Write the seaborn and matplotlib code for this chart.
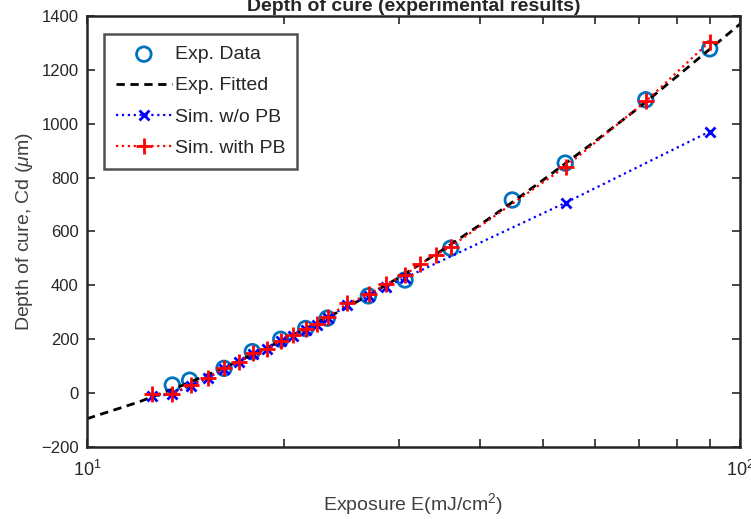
import numpy as np
import pandas as pd
import matplotlib
matplotlib.use("Agg")
import matplotlib.pyplot as plt
import seaborn as sns

# values
exp_E = [13.51, 14.36, 16.21, 17.91, 19.80, 21.62, 23.33, 26.97, 30.69, 36.06, 44.80, 54.00, 71.72, 89.86]
exp_Cd = [30, 48, 92, 154, 200, 240, 278, 361, 420, 538, 717, 854, 1089, 1278]

fit_E = [10, 12, 14, 16, 18, 20, 25, 30, 35, 40, 45, 50, 60, 70, 80, 90, 100]
fit_Cd = [-95, -33, 29, 88, 145, 198, 318, 428, 531, 625, 712, 792, 935, 1060, 1175, 1278, 1370]

pb_E = [12.56, 13.51, 14.41, 15.34, 16.21, 17.09, 17.97, 18.89, 19.80, 20.68, 21.62, 22.50, 23.39,
        25.04, 27.03, 28.73, 30.69, 32.32, 34.20, 36.06, 54.08, 71.72, 89.86]
pb_Cd = [-5, -2, 30, 58, 93, 116, 148, 164, 194, 216, 237, 257, 284,
         333, 367, 405, 439, 478, 513, 544, 841, 1083, 1305]

nopb_E = [12.56, 13.51, 14.41, 15.34, 16.21, 17.09, 17.97, 18.89, 19.80, 20.68, 21.62, 22.50, 23.39,
          25.04, 27.03, 28.73, 30.69, 54.08, 89.86]
nopb_Cd = [-12, -4, 28, 56, 91, 114, 146, 162, 192, 213, 234, 253, 279,
           326, 360, 394, 428, 707, 971]

sns.set_style("ticks")
plt.rcParams['font.family'] = ['Liberation Sans', 'DejaVu Sans']
plt.rcParams['mathtext.fontset'] = 'custom'
plt.rcParams['mathtext.rm'] = 'Liberation Sans'
plt.rcParams['mathtext.it'] = 'Liberation Sans:italic'

fig = plt.figure(figsize=(7.51, 5.19), dpi=100)
ax = fig.add_axes([87 / 751, 1 - 447 / 519, 653 / 751, 431 / 519])

sns.lineplot(x=fit_E, y=fit_Cd, ax=ax, color='black', linestyle=(0, (3, 2)), linewidth=2,
             label='Exp. Fitted', sort=False)
sns.lineplot(x=nopb_E, y=nopb_Cd, ax=ax, color='#0000FF', linestyle=':', linewidth=1.6,
             marker='x', markersize=7, markeredgewidth=2, markeredgecolor='#0000FF',
             label='Sim. w/o PB', sort=False)
sns.lineplot(x=pb_E, y=pb_Cd, ax=ax, color='#FF0000', linestyle=':', linewidth=1.6,
             marker='+', markersize=11, markeredgewidth=2, markeredgecolor='#FF0000',
             label='Sim. with PB', sort=False)
sns.scatterplot(x=exp_E, y=exp_Cd, ax=ax, marker='o', s=110, facecolor='none',
                edgecolor='#0072BD', linewidth=2, label='Exp. Data', zorder=1)

ax.set_xscale('log')
ax.set_xlim(10, 100)
ax.set_ylim(-200, 1400)
ax.set_yticks(np.arange(-200, 1401, 200))
ax.set_xticks([10, 100])
ax.set_xticklabels(['$10^1$', '$10^2$'])
ax.set_xticks([20, 30, 40, 50, 60, 70, 80, 90], minor=True)
ax.xaxis.set_minor_formatter(matplotlib.ticker.NullFormatter())

ax.tick_params(axis='both', which='both', direction='in', top=True, right=True,
               labelsize=12, colors='#262626', width=1.2)
ax.tick_params(axis='both', which='major', length=6)
ax.tick_params(axis='x', which='minor', length=6)
ax.tick_params(axis='x', which='major', pad=9, labelsize=13)
ax.tick_params(axis='y', which='major', pad=6)
for sp in ax.spines.values():
    sp.set_linewidth(1.8)
    sp.set_color('#262626')

ax.set_xlabel('Exposure E(mJ/cm$^2$)', fontsize=14, color='#404040', labelpad=8)
ax.set_ylabel('Depth of cure, Cd ($\\mu$m)', fontsize=14, color='#404040', labelpad=4)

fig.text((87 + 740) / 2 / 751, 1 - 11 / 519, 'Depth of cure (experimental results)',
         ha='center', va='baseline', fontsize=14, fontweight='bold', color='#262626')

h, l = ax.get_legend_handles_labels()
order = [l.index(n) for n in ['Exp. Data', 'Exp. Fitted', 'Sim. w/o PB', 'Sim. with PB']]
leg = ax.legend([h[i] for i in order], [l[i] for i in order], loc='upper left',
                bbox_to_anchor=(17 / 653, 1 - 18 / 431), borderaxespad=0, fontsize=14,
                handlelength=2.9, handletextpad=0.15, labelspacing=0.7, borderpad=0.6,
                fancybox=False, frameon=True, edgecolor='#262626')
leg.get_frame().set_linewidth(1.8)
for t in leg.get_texts():
    t.set_color('#262626')

fig.savefig('out.png', dpi=100)
